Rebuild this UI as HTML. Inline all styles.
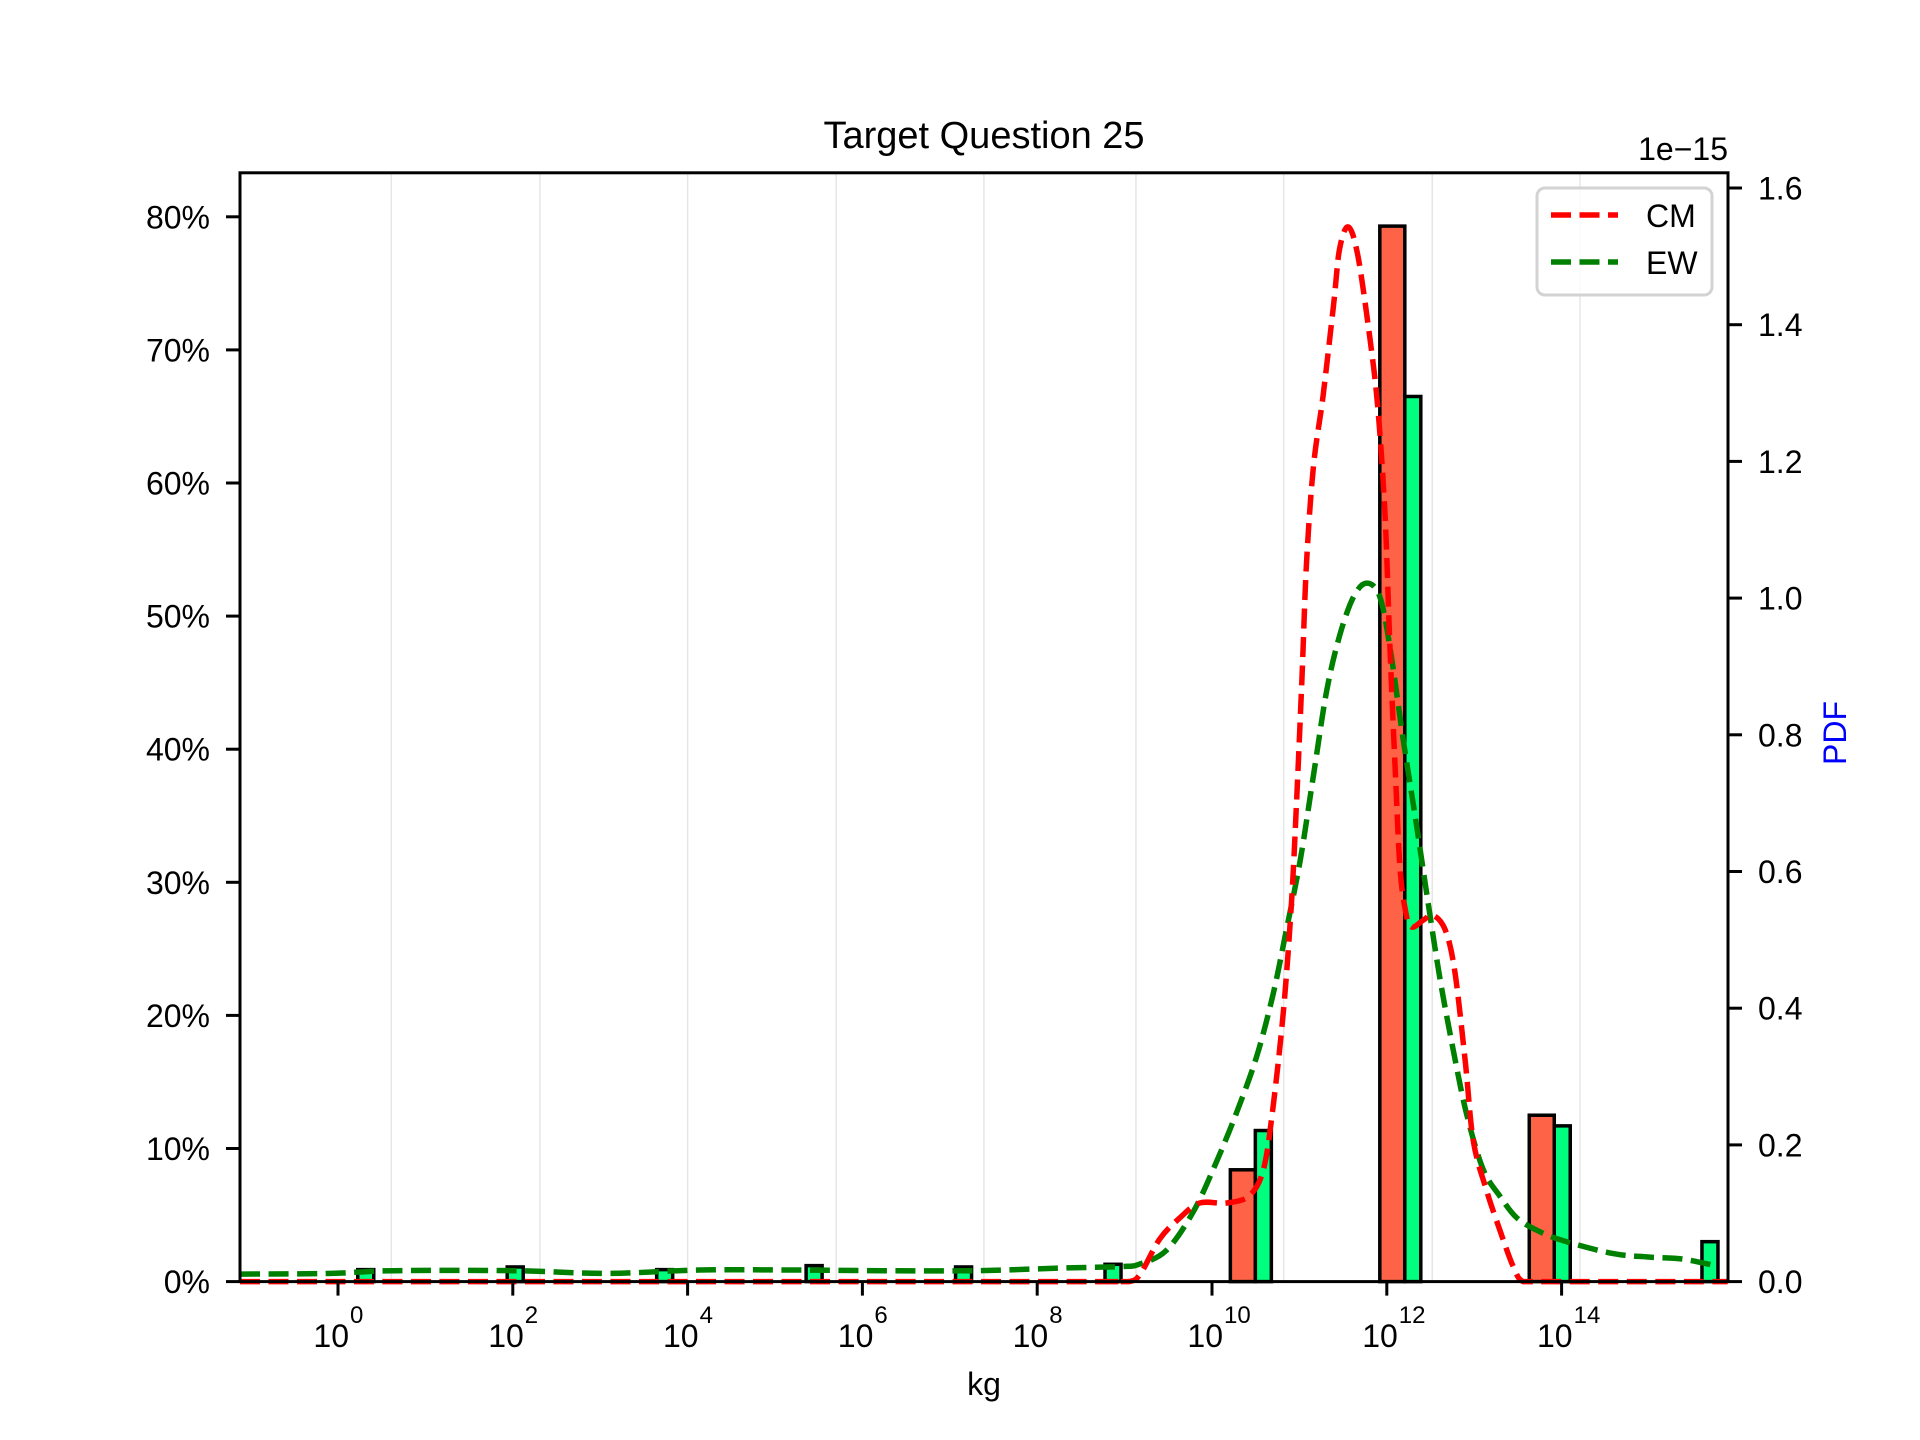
<!DOCTYPE html>
<html><head><meta charset="utf-8"><style>
html,body{margin:0;padding:0;background:#fff;}
svg{display:block;font-family:"Liberation Sans",Arial,sans-serif;}
</style></head><body>
<svg id="chart" width="1920" height="1440" viewBox="0 0 1920 1440" xmlns="http://www.w3.org/2000/svg">
<rect width="1920" height="1440" fill="#fff"/>
<g id="grid"></g>
<g id="bars"></g>
<g id="curves"></g>
<rect x="240" y="172.8" width="1488" height="1108.8" fill="none" stroke="#000" stroke-width="3"/>
<g id="axes"></g>
<text x="984" y="148" font-size="38" text-anchor="middle">Target Question 25</text>
<text x="1728" y="160" font-size="32" text-anchor="end">1e−15</text>
<text x="984" y="1395" font-size="32" text-anchor="middle">kg</text>
<text x="0" y="0" font-size="32" fill="#0000ff" text-anchor="middle" transform="translate(1846,733) rotate(-90)">PDF</text>
<g>
<rect x="1537" y="188" width="175" height="107" rx="8" fill="#fff" fill-opacity="0.8" stroke="#d3d3d3" stroke-width="3"/>
<line x1="1551" y1="215" x2="1618" y2="215" stroke="#ff0000" stroke-width="5.5" stroke-dasharray="20 8.5"/>
<text x="1646" y="227" font-size="32">CM</text>
<line x1="1551" y1="262" x2="1618" y2="262" stroke="#008000" stroke-width="5.5" stroke-dasharray="20 8.5"/>
<text x="1646" y="274" font-size="32">EW</text>
</g>
</svg>
<script>
const binStarts = [-0.06, 1.65, 3.36, 5.07, 6.78, 8.49, 10.21, 11.92, 13.63, 15.32];
const cmPercent = [0, 0, 0, 0, 0, 0, 8.4, 79.3, 12.5, 0];
const ewPercent = [0.9, 1.1, 0.9, 1.2, 1.1, 1.3, 11.35, 66.5, 11.7, 3.0];
const cmLogX = [-1.2, 8.0, 8.8, 9.05, 9.18, 9.40, 9.63, 9.86, 10.17, 10.43, 10.59, 10.70, 10.82, 10.91, 10.97, 11.03, 11.08, 11.16, 11.27, 11.39, 11.46, 11.56, 11.67, 11.81, 11.90, 11.98, 12.04, 12.10, 12.15, 12.21, 12.28, 12.42, 12.53, 12.67, 12.78, 12.90, 12.99, 13.14, 13.30, 13.45, 13.56, 13.8, 14.5, 15.9];
const cmPdf = [0, 0, 0, 0, 0.011, 0.062, 0.093, 0.115, 0.115, 0.126, 0.165, 0.257, 0.40, 0.555, 0.709, 0.884, 1.048, 1.192, 1.295, 1.428, 1.511, 1.543, 1.50, 1.377, 1.274, 1.12, 0.915, 0.74, 0.607, 0.545, 0.519, 0.529, 0.536, 0.514, 0.452, 0.319, 0.206, 0.134, 0.073, 0.021, 0.0, 0.0, 0.0, 0.0];
const ewLogX = [-1.12, -0.07, 0.63, 2.0, 3.08, 4.13, 5.18, 6.24, 7.29, 8.34, 8.97, 9.18, 9.48, 9.79, 10.05, 10.28, 10.51, 10.70, 10.85, 11.01, 11.16, 11.31, 11.46, 11.62, 11.77, 11.92, 12.04, 12.19, 12.34, 12.46, 12.61, 12.76, 12.91, 13.10, 13.30, 13.49, 13.75, 14.04, 14.59, 14.99, 15.38, 15.77];
const ewPdf = [0.011, 0.012, 0.016, 0.016, 0.012, 0.017, 0.017, 0.016, 0.016, 0.020, 0.022, 0.026, 0.046, 0.103, 0.175, 0.247, 0.329, 0.421, 0.514, 0.617, 0.74, 0.863, 0.945, 1.002, 1.022, 1.002, 0.925, 0.791, 0.668, 0.565, 0.442, 0.339, 0.247, 0.165, 0.124, 0.093, 0.073, 0.059, 0.041, 0.036, 0.033, 0.023];
const xTicks = [0, 2, 4, 6, 8, 10, 12, 14];
const yTicksLeft = [0, 10, 20, 30, 40, 50, 60, 70, 80];
const yTicksRight = [0.0, 0.2, 0.4, 0.6, 0.8, 1.0, 1.2, 1.4, 1.6];
const gridLogX = [0.61, 2.31, 4.0, 5.70, 7.39, 9.13, 10.82, 12.52, 14.21];

const NS = "http://www.w3.org/2000/svg";
const L = 240, R = 1728, T = 172.8, B = 1281.6;
const xScale = v => 338 + (v) * 87.4;
const yLeft = p => B - p * 13.31;
const yRight = v => B - v * 683.5;
const CMW = 0.286, EWW = 0.183;
function mk(tag, attrs, parent) {
  const e = document.createElementNS(NS, tag);
  for (const k in attrs) e.setAttribute(k, attrs[k]);
  parent.appendChild(e);
  return e;
}
const grid = document.getElementById('grid');
gridLogX.forEach(g => {
  const ln = mk('line', {x1: xScale(g), x2: xScale(g), y1: T, y2: B, stroke: '#e6e6e6', 'stroke-width': 1.5}, grid);
  
  
});
const bars = document.getElementById('bars');
binStarts.forEach((s, i) => {
  const x0 = xScale(s), x1 = xScale(s + CMW), x2 = xScale(s + CMW + EWW);
  if (cmPercent[i] > 0) {
    const r = mk('rect', {x: x0, y: yLeft(cmPercent[i]), width: x1 - x0, height: B - yLeft(cmPercent[i]), fill: '#ff6347', stroke: '#000', 'stroke-width': 3.5}, bars);
    
    
  }
  const r2 = mk('rect', {x: x1, y: yLeft(ewPercent[i]), width: x2 - x1, height: B - yLeft(ewPercent[i]), fill: '#00ff7f', stroke: '#000', 'stroke-width': 3.5}, bars);
  
  
});
const curves = document.getElementById('curves');
function path(xs, ys) {
  const p = xs.map((x, i) => [Math.max(L, Math.min(R, xScale(x))), yRight(ys[i])]);
  let d = 'M' + p[0][0].toFixed(1) + ',' + p[0][1].toFixed(1);
  for (let i = 0; i < p.length - 1; i++) {
    const p0 = p[Math.max(0, i - 1)], p1 = p[i], p2 = p[i + 1], p3 = p[Math.min(p.length - 1, i + 2)];
    const c1x = p1[0] + (p2[0] - p0[0]) / 6, c1y = p1[1] + (p2[1] - p0[1]) / 6;
    const c2x = p2[0] - (p3[0] - p1[0]) / 6, c2y = p2[1] - (p3[1] - p1[1]) / 6;
    d += ' C' + c1x.toFixed(1) + ',' + Math.min(B, c1y).toFixed(1) + ' ' + c2x.toFixed(1) + ',' + Math.min(B, c2y).toFixed(1) + ' ' + p2[0].toFixed(1) + ',' + p2[1].toFixed(1);
  }
  return d;
}
const ew = mk('path', {d: path(ewLogX, ewPdf), fill: 'none', stroke: '#008000', 'stroke-width': 5.5, 'stroke-dasharray': '20 8.5', 'stroke-linejoin': 'round'}, curves);


const cm = mk('path', {d: path(cmLogX, cmPdf), fill: 'none', stroke: '#ff0000', 'stroke-width': 5.5, 'stroke-dasharray': '20 8.5', 'stroke-linejoin': 'round'}, curves);



const axes = document.getElementById('axes');
xTicks.forEach(t => {
  const x = xScale(t);
  const tk = mk('line', {x1: x, x2: x, y1: B, y2: B + 14, stroke: '#000', 'stroke-width': 3}, axes);
  
  
  const tx = mk('text', {x: x + 11, y: 1347, 'font-size': 32, 'text-anchor': 'end'}, axes);
  tx.textContent = '10';
  
  
  const sp = mk('text', {x: x + 12, y: 1323, 'font-size': 24}, axes);
  sp.textContent = String(t);
  
  
});
yTicksLeft.forEach(p => {
  const y = yLeft(p);
  const tk = mk('line', {x1: L - 14, x2: L, y1: y, y2: y, stroke: '#000', 'stroke-width': 3}, axes);
  
  
  const tx = mk('text', {x: 210, y: y + 11.5, 'font-size': 32, 'text-anchor': 'end'}, axes);
  tx.textContent = p + '%';
  
  
});
yTicksRight.forEach(v => {
  const y = yRight(v);
  const tk = mk('line', {x1: R, x2: R + 14, y1: y, y2: y, stroke: '#000', 'stroke-width': 3}, axes);
  
  
  const tx = mk('text', {x: 1758, y: y + 11.5, 'font-size': 32}, axes);
  tx.textContent = v.toFixed(1);
  
  
});
</script>
</body></html>
